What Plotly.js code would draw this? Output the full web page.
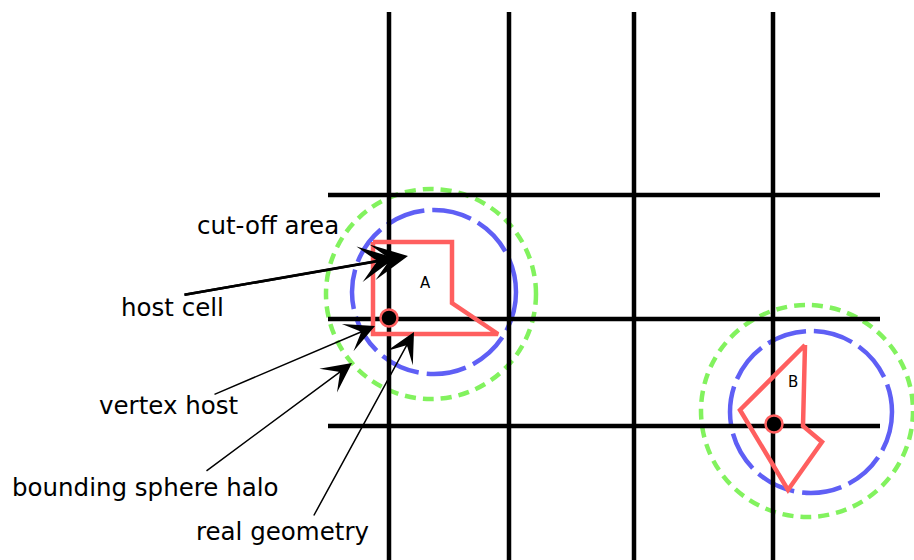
<!DOCTYPE html>
<html><head><meta charset="utf-8">
<script src="https://cdn.plot.ly/plotly-3.0.1.min.js"></script>
<style>html,body{margin:0;padding:0;background:#fff}#c{width:914px;height:560px}</style>
</head><body><div id="c"></div>
<script>
// Grid lines (pixel-space diagram coordinates)
const gridX = [389, 509, 634, 773];
const gridXSpan = [12, 560];
const gridY = [195, 319, 426];
const gridYSpan = [328, 880];

// Cell A geometry
const polyAx = [373, 452, 452, 498, 373, 373];
const polyAy = [242, 242, 303, 334, 334, 242];
// Cell B geometry
const polyBx = [805, 803, 822, 788, 740, 805];
const polyBy = [345, 426, 442, 490, 410, 345];

// Vertex hosts
const vertX = [389, 774];
const vertY = [318, 424];

// Circles: cut-off area (green) and bounding sphere halo (blue)
const cutoffCx = [431, 807], cutoffCy = [294, 411], cutoffR = [105, 106];
const haloCx = [434, 811], haloCy = [292, 412], haloR = [82, 81];

// Labels
const labelText = ["cut-off area", "host cell", "vertex host", "bounding sphere halo", "real geometry"];
const labelX = [268, 172, 168, 145, 282];
const labelY = [225, 307, 405, 487, 531];
const cellText = ["A", "B"];
const cellX = [425, 793];
const cellY = [283, 382];

// Arrows: tail -> tip
const arrowTailX = [183, 183, 213, 205, 313];
const arrowTailY = [295, 295, 395, 472, 517];
const arrowTipX = [408, 395, 375, 352, 414];
const arrowTipY = [256, 258, 326, 363, 332];
const arrowW = [2.5, 2.5, 1.5, 1.5, 1.5];
const arrowS = [2.4, 2.4, 3.3, 3.3, 3.3];

const RED = '#ff5f5f', BLUE = '#5f5ff5', GREEN = '#82f25e';

const traces = [];
gridX.forEach(x => traces.push({x:[x,x], y:gridXSpan, mode:'lines', line:{color:'#000', width:4.5}, hoverinfo:'skip'}));
gridY.forEach(y => traces.push({x:gridYSpan, y:[y,y], mode:'lines', line:{color:'#000', width:4.5}, hoverinfo:'skip'}));
traces.push({x:polyAx, y:polyAy, mode:'lines', line:{color:RED, width:4.5}, hoverinfo:'skip'});
traces.push({x:polyBx, y:polyBy, mode:'lines', line:{color:RED, width:4.5}, hoverinfo:'skip'});
traces.push({x:vertX, y:vertY, mode:'markers', marker:{color:'#000', size:17, line:{color:RED, width:2.5}}, hoverinfo:'skip'});

const shapes = [];
cutoffCx.forEach((cx,i) => shapes.push({type:'circle', xref:'x', yref:'y', layer:'below',
  x0:cx-cutoffR[i], x1:cx+cutoffR[i], y0:cutoffCy[i]-cutoffR[i], y1:cutoffCy[i]+cutoffR[i],
  line:{color:GREEN, width:4.5, dash:'11px,7px'}}));
haloCx.forEach((cx,i) => shapes.push({type:'circle', xref:'x', yref:'y', layer:'below',
  x0:cx-haloR[i], x1:cx+haloR[i], y0:haloCy[i]-haloR[i], y1:haloCy[i]+haloR[i],
  line:{color:BLUE, width:4.5, dash:'40px,8px'}}));

const annotations = [];
labelText.forEach((t,i) => annotations.push({x:labelX[i], y:labelY[i], xref:'x', yref:'y', text:t, showarrow:false,
  xanchor:'center', yanchor:'middle', font:{family:'DejaVu Sans', size:24.5, color:'#000'}}));
cellText.forEach((t,i) => annotations.push({x:cellX[i], y:cellY[i], xref:'x', yref:'y', text:t, showarrow:false,
  xanchor:'center', yanchor:'middle', font:{family:'DejaVu Sans', size:15, color:'#000'}}));
arrowTipX.forEach((x,i) => annotations.push({x:x, y:arrowTipY[i], ax:arrowTailX[i], ay:arrowTailY[i],
  xref:'x', yref:'y', axref:'x', ayref:'y', text:'', showarrow:true, arrowhead:3,
  arrowsize:arrowS[i], arrowwidth:arrowW[i], arrowcolor:'#000'}));

const layout = {
  width:914, height:560, margin:{l:0,r:0,t:0,b:0}, showlegend:false,
  paper_bgcolor:'#fff', plot_bgcolor:'#fff',
  xaxis:{range:[0,914], visible:false, fixedrange:true},
  yaxis:{range:[560,0], visible:false, fixedrange:true},
  shapes:shapes, annotations:annotations
};
Plotly.newPlot('c', traces, layout, {staticPlot:true, displayModeBar:false});
</script></body></html>
